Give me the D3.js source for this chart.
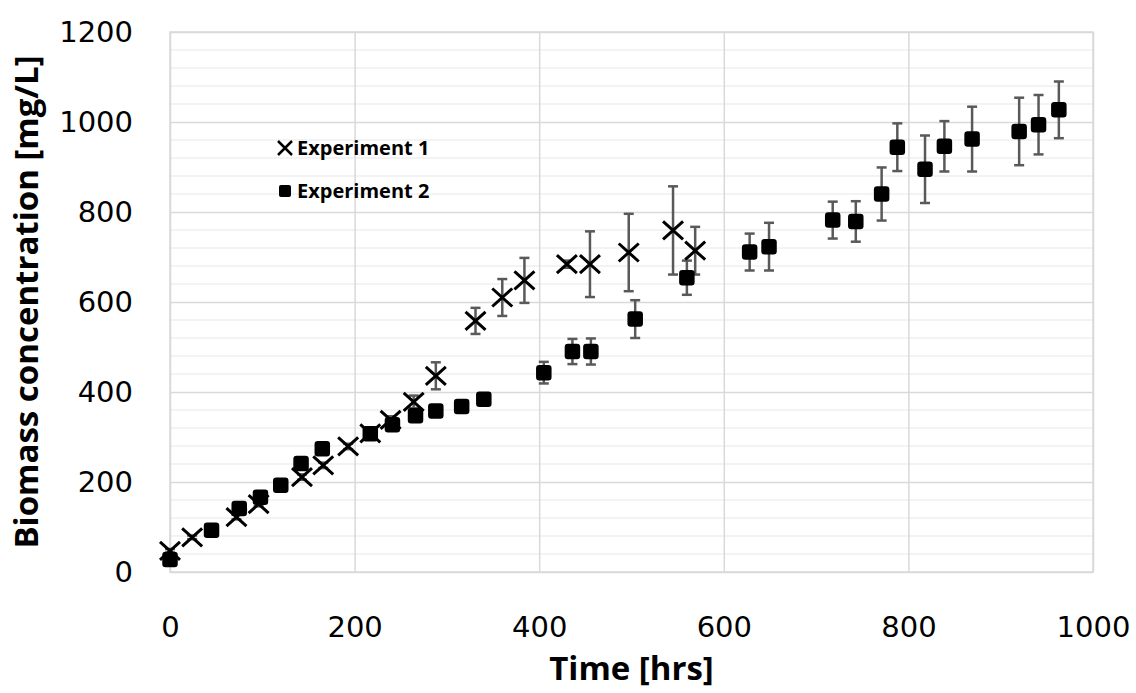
<!DOCTYPE html>
<html>
<head>
<meta charset="utf-8">
<script src="https://cdn.jsdelivr.net/npm/d3@7"></script>
<style>
  body { margin: 0; background: #fff; }
  svg { display: block; }
</style>
</head>
<body>
<svg id="chart" width="1136" height="693"></svg>
<script>
// Experiment 1 (croix) : temps [h], biomasse [mg/L], écart
var exp1Time = [0, 24, 72, 96, 143, 166, 193, 217, 239, 264, 288, 331, 360, 384, 430, 455, 497, 545, 569];
var exp1Value = [47, 77, 122, 151, 211, 237, 279, 308, 338, 378, 436, 558, 610, 648, 684, 684, 710, 759, 714];
var exp1Err = [4, 4, 5, 5, 6, 6, 6, 7, 8, 14, 30, 29, 41, 50, 8, 73, 86, 98, 53];

// Experiment 2 (carrés)
var exp2Time = [0, 45, 75, 98, 120, 142, 165, 217, 241, 266, 288, 316, 340, 405, 436, 456, 504, 560, 628, 649, 718, 743, 771, 788, 818, 839, 869, 920, 941, 963];
var exp2Value = [28, 93, 141, 166, 193, 241, 274, 307, 327, 347, 358, 368, 384, 443, 490, 490, 562, 654, 711, 723, 782, 779, 840, 944, 895, 946, 962, 979, 994, 1027];
var exp2Err = [0, 0, 0, 0, 0, 0, 0, 0, 0, 0, 0, 0, 0, 24, 28, 29, 42, 38, 41, 53, 41, 45, 59, 53, 75, 56, 72, 75, 66, 63];

var xTicks = [0, 200, 400, 600, 800, 1000];
var yTicks = [0, 200, 400, 600, 800, 1000, 1200];

var seriesNames = ["Experiment 1", "Experiment 2"];

var exp1 = exp1Time.map(function(t, i) { return {t: t, v: exp1Value[i], e: exp1Err[i]}; });
var exp2 = exp2Time.map(function(t, i) { return {t: t, v: exp2Value[i], e: exp2Err[i]}; });

var svg = d3.select("#chart");
var margin = {top: 32, right: 43, bottom: 121, left: 170};
var width = 1136 - margin.left - margin.right,
    height = 693 - margin.top - margin.bottom;

var xScale = d3.scaleLinear().domain([0, 1000]).range([margin.left, margin.left + width]);
var yScale = d3.scaleLinear().domain([0, 1200]).range([margin.top + height, margin.top]);

// grille mineure (tous les 40)
svg.append("g").selectAll("line")
    .data(d3.range(40, 1200, 40).filter(function(d) { return d % 200 !== 0; }))
    .enter().append("line")
    .attr("x1", xScale(0)).attr("x2", xScale(1000))
    .attr("y1", function(d) { return yScale(d); })
    .attr("y2", function(d) { return yScale(d); })
    .style("stroke", "#efefef").style("stroke-width", 1.5);

// grille majeure
var yAxis = g => g
    .attr("transform", `translate(${xScale(0)}, 0)`)
    .call(d3.axisLeft(yScale).tickValues(yTicks).tickFormat(d3.format("d")).tickSize(-width).tickPadding(37))
    .call(g => g.select(".domain").remove())
    .call(g => g.selectAll(".tick line").style("stroke", "#d9d9d9").style("stroke-width", 1.5))
    .call(g => g.selectAll(".tick text")
        .style("font-family", "DejaVu Sans").style("font-size", "29px").style("fill", "#000"));

var xAxis = g => g
    .attr("transform", `translate(0, ${yScale(0)})`)
    .call(d3.axisBottom(xScale).tickValues(xTicks).tickFormat(d3.format("d")).tickSize(-height).tickPadding(44))
    .call(g => g.select(".domain").remove())
    .call(g => g.selectAll(".tick line").style("stroke", "#d9d9d9").style("stroke-width", 1.5))
    .call(g => g.selectAll(".tick text")
        .style("font-family", "DejaVu Sans").style("font-size", "29px").style("fill", "#000"));

svg.append("g").call(yAxis);
svg.append("g").call(xAxis);

// cadre
svg.append("rect")
    .attr("x", xScale(0)).attr("y", yScale(1200))
    .attr("width", width).attr("height", height)
    .style("fill", "none").style("stroke", "#d9d9d9").style("stroke-width", 1.5);

// titres des axes
svg.append("text")
    .attr("x", (xScale(0) + xScale(1000)) / 2)
    .attr("y", 680)
    .style("text-anchor", "middle")
    .style("font-family", "Open Sans").style("font-weight", "bold").style("font-size", "33px")
    .text("Time [hrs]");

svg.append("text")
    .attr("transform", `translate(38, ${(yScale(0) + yScale(1200)) / 2}) rotate(-90)`)
    .style("text-anchor", "middle")
    .style("font-family", "Open Sans").style("font-weight", "bold").style("font-size", "33px")
    .text("Biomass concentration [mg/L]");

// barres d'erreur
function errorBars(data) {
    var g = svg.append("g").style("stroke", "#595959").style("stroke-width", 2.5);
    var d = data.filter(function(p) { return p.e > 0; });
    g.selectAll(".v").data(d).enter().append("line")
        .attr("x1", p => xScale(p.t)).attr("x2", p => xScale(p.t))
        .attr("y1", p => yScale(p.v - p.e)).attr("y2", p => yScale(p.v + p.e));
    g.selectAll(".lo").data(d).enter().append("line")
        .attr("x1", p => xScale(p.t) - 5).attr("x2", p => xScale(p.t) + 5)
        .attr("y1", p => yScale(p.v - p.e)).attr("y2", p => yScale(p.v - p.e));
    g.selectAll(".hi").data(d).enter().append("line")
        .attr("x1", p => xScale(p.t) - 5).attr("x2", p => xScale(p.t) + 5)
        .attr("y1", p => yScale(p.v + p.e)).attr("y2", p => yScale(p.v + p.e));
}
errorBars(exp2);
errorBars(exp1);

// marqueurs carrés
svg.append("g").selectAll("rect")
    .data(exp2).enter().append("rect")
    .attr("x", p => xScale(p.t) - 7).attr("y", p => yScale(p.v) - 7)
    .attr("width", 14).attr("height", 14).attr("rx", 2.5)
    .style("fill", "#000").style("stroke", "#000").style("stroke-width", 1.5);

// marqueurs croix
var crossPath = "M-10,-9L10,9M-10,9L10,-9";
svg.append("g").selectAll("path")
    .data(exp1).enter().append("path")
    .attr("transform", p => `translate(${xScale(p.t)}, ${yScale(p.v)})`)
    .attr("d", crossPath)
    .style("fill", "none").style("stroke", "#000").style("stroke-width", 3);

// légende
var legend = svg.append("g");
legend.append("path")
    .attr("transform", "translate(285, 148)")
    .attr("d", "M-7,-7L7,7M-7,7L7,-7")
    .style("fill", "none").style("stroke", "#000").style("stroke-width", 2.5);
legend.append("rect")
    .attr("x", 279).attr("y", 185).attr("width", 12).attr("height", 12).attr("rx", 2)
    .style("fill", "#000");
legend.selectAll("text")
    .data(seriesNames).enter().append("text")
    .attr("x", 297)
    .attr("y", (d, i) => 155 + i * 43)
    .style("font-family", "Open Sans").style("font-weight", "bold").style("font-size", "20px")
    .text(d => d);
</script>
</body>
</html>
